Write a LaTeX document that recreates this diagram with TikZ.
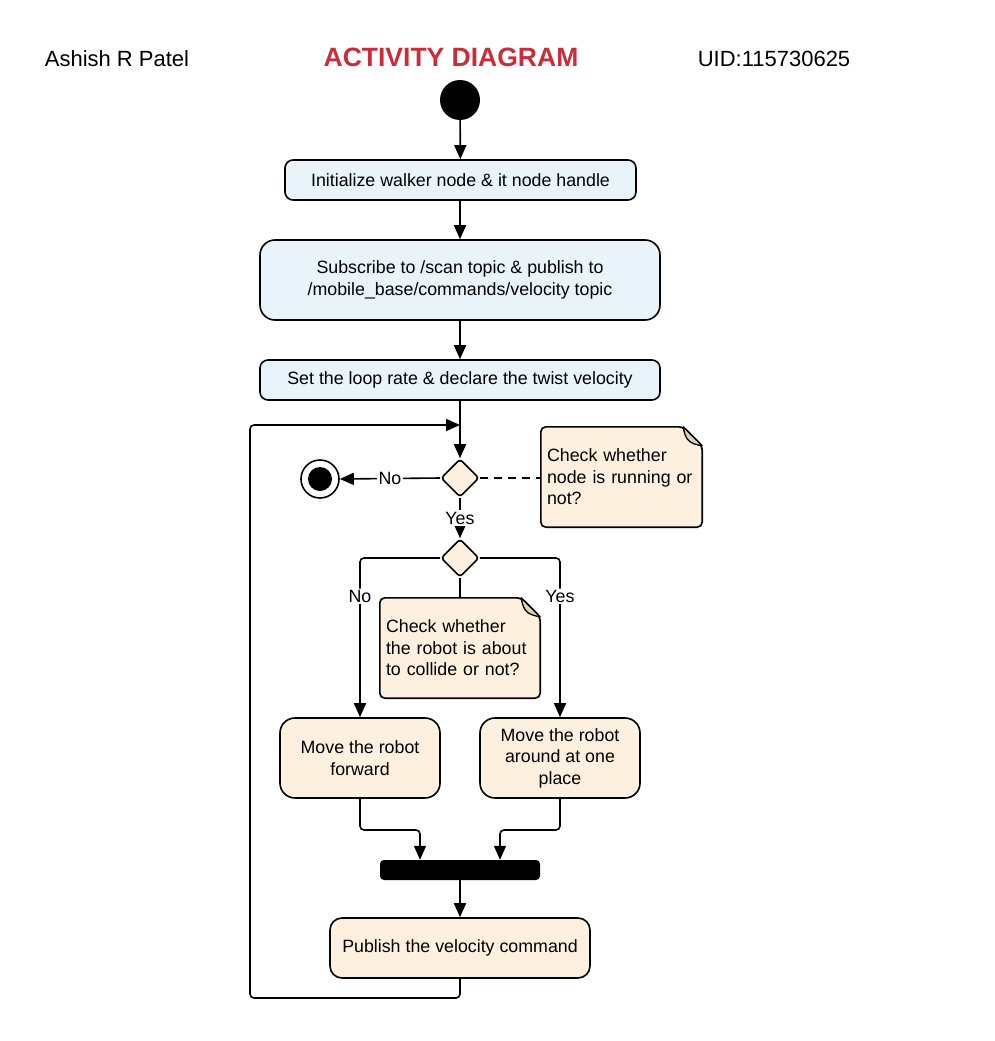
\documentclass[tikz,border=0pt]{standalone}
\usepackage{fontspec}
\setmainfont{Liberation Sans}
\usetikzlibrary{arrows.meta,shapes.geometric,calc}
\definecolor{boxblue}{RGB}{232,244,250}
\definecolor{peach}{RGB}{254,240,222}
\definecolor{foldc}{RGB}{220,208,192}
\definecolor{titlered}{RGB}{201,45,57}
\begin{document}
\begin{tikzpicture}[x=1pt,y=-1pt,
  conn/.style={line width=1.6pt,-{Triangle[length=14pt,width=12pt]}},
  plain/.style={line width=1.6pt},
  txt/.style={font=\fontsize{17.8}{21.5}\selectfont},
  act/.style={txt,draw,line width=1.6pt,align=center,inner sep=0pt,rounded corners=#1},
  bluebox/.style={act=#1,fill=boxblue},
  peachbox/.style={act=#1,fill=peach},
  dec/.style={draw,line width=1.6pt,diamond,fill=peach,minimum width=38pt,minimum height=38pt,inner sep=0pt,rounded corners=3pt},
  noteshape/.style={minimum width=161pt,minimum height=100pt,inner sep=0pt},
  notetext/.style={txt,align=left,text width=149pt,inner sep=0pt},
  lbl/.style={txt,fill=white,inner sep=1.5pt},
  hdr/.style={font=\fontsize{22}{26}\selectfont}
]
\useasboundingbox (0,0) rectangle (994,1041);

% header
\node[hdr] (author) at (117,59) {Ashish R Patel};
\node[font=\fontsize{26.5}{30}\selectfont\bfseries,text=titlered] (title) at (451,57) {ACTIVITY DIAGRAM};
\node[hdr] (uid) at (774,59) {UID:115730625};

% notes (outline first, text on top)
\node[noteshape] (n1) at (621.5,477) {};
\node[noteshape,minimum width=160pt] (n2) at (460,648) {};
\foreach \n in {n1,n2}{
  \draw[line width=1.6pt,fill=peach,rounded corners=5pt] (\n.north west) -- ([xshift=-19pt]\n.north east) -- ([yshift=-19pt]\n.north east) -- (\n.south east) -- (\n.south west) -- cycle;
  \draw[fill=foldc,line width=1.3pt,line join=round] ([xshift=-19pt]\n.north east) .. controls ([xshift=-17pt,yshift=-14pt]\n.north east) and ([xshift=-12pt,yshift=-17pt]\n.north east) .. ([yshift=-19pt]\n.north east) -- cycle;
}
\node[notetext] (n1t) at (n1) {Check whether\\node is running or\\not?};
\node[notetext,text width=148pt] (n2t) at (n2) {Check whether\\the robot is about\\to collide or not?};

% nodes
\node[circle,fill=black,minimum size=40pt,inner sep=0pt] (start) at (460,100) {};
\node[bluebox=8pt,minimum width=351pt,minimum height=40pt] (b1) at (460.5,180) {Initialize walker node \& it node handle};
\node[bluebox=15pt,minimum width=400pt,minimum height=80pt] (b2) at (460,280) {Subscribe to /scan topic \& publish to\\/mobile\_base/commands/velocity topic};
\node[bluebox=8pt,minimum width=400pt,minimum height=40pt] (b3) at (460,380) {Set the loop rate \& declare the twist velocity};
\coordinate (merge) at (460,425);
\node[dec] (d1) at (460,478) {};
\node[circle,draw,line width=1.6pt,fill=white,minimum size=38pt,inner sep=0pt] (endo) at (320,479) {};
\node[circle,fill=black,minimum size=24pt,inner sep=0pt] (endi) at (320,479) {};
\node[dec] (d2) at (460,558) {};
\node[peachbox=15pt,minimum width=160pt,minimum height=80pt] (b4) at (360,758) {Move the robot\\forward};
\node[peachbox=15pt,minimum width=160pt,minimum height=80pt] (b5) at (560,758) {Move the robot\\around at one\\place};
\node[fill=black,rounded corners=4pt,minimum width=160pt,minimum height=20pt,inner sep=0pt] (bar) at (460,870) {};
\node[peachbox=12pt,minimum width=260pt,minimum height=60pt] (b6) at (460,948) {Publish the velocity command};

% coordinates for routing
\coordinate (lb) at (250,998);
\coordinate (lt) at (250,425);
\coordinate (j1) at (420,830);
\coordinate (j2) at (500,830);

% connectors
\draw[conn] (start) -- (b1);
\draw[conn] (b1.south -| start) -- (b2.north -| start);
\draw[conn] (b2) -- (b3);
\draw[plain] (b3) -- (merge);
\draw[conn] (merge) -- (d1);
\draw[conn,rounded corners=4pt] (b6.south) |- (lb) -- (lt) -- (merge);
\draw[conn] (d1.west) -- node[lbl] (lno) {No} (endo.east);
\draw[plain,dash pattern=on 8pt off 6pt] (d1.east) -- (d1.east -| n1.west);
\draw[conn] (d1.south) -- node[lbl] (lyes) {Yes} (d2.north);
\draw[conn,rounded corners=4pt] (d2.west) -| node[lbl,pos=0.62] (lno2) {No} (b4.north);
\draw[conn,rounded corners=4pt] (d2.east) -| node[lbl,pos=0.62] (lyes2) {Yes} (b5.north);
\draw[plain] (d2.south) -- (n2.north);
\draw[conn,rounded corners=4pt] (b4.south) |- (j1) -- (j1 |- bar.north);
\draw[conn,rounded corners=4pt] (b5.south) |- (j2) -- (j2 |- bar.north);
\draw[conn] (bar) -- (b6);
\end{tikzpicture}
\end{document}
